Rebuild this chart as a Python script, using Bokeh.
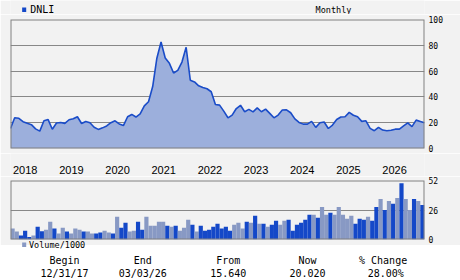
from bokeh.plotting import figure
from bokeh.layouts import column
from bokeh.models import Range1d, FixedTicker, ColumnDataSource
from bokeh.core.properties import value
from bokeh.embed import file_html
from bokeh.resources import INLINE

# ---------------- data ----------------
symbol = "DNLI"
period = "Monthly"
year_labels = ["2018", "2019", "2020", "2021", "2022", "2023", "2024", "2025", "2026"]
year_ticks = [0, 12, 24, 36, 48, 60, 72, 84, 96]          # months since Jan 2018
price_ticks = [0, 20, 40, 60, 80, 100]
vol_ticks = [0, 26, 52]

price = [15.6, 23.8, 23.4, 20.8, 19.6, 18.5, 15.2, 13.5, 21.5, 22.4,
         14.9, 19.8, 20.2, 19.5, 22.3, 23.0, 24.6, 19.4, 21.0, 20.0,
         16.5, 14.8, 16.0, 17.5, 20.0, 21.5, 19.0, 17.8, 24.6, 26.4,
         24.4, 26.8, 33.0, 36.2, 48.0, 70.0, 82.5, 70.2, 66.0, 58.5,
         60.6, 67.0, 78.5, 52.9, 51.6, 48.6, 47.3, 46.3, 44.0, 34.1,
         33.6, 29.0, 23.8, 25.9, 31.0, 33.5, 28.5, 30.3, 28.4, 31.5,
         28.5, 30.5, 27.2, 23.8, 25.9, 29.8, 30.0, 27.7, 23.0, 20.2,
         18.9, 18.9, 21.0, 16.4, 20.0, 20.5, 15.5, 18.2, 22.5, 24.4,
         24.6, 28.0, 25.8, 24.6, 21.0, 21.5, 15.6, 13.8, 16.4, 14.3,
         13.8, 14.1, 15.0, 15.0, 17.5, 19.9, 17.0, 22.0, 21.0, 20.0]

volume = [9.6, 7.0, 3.5, 7.8, 2.3, 3.5, 11.3, 7.3, 8.7, 15.7,
          9.6, 5.2, 10.4, 7.0, 5.2, 9.6, 8.7, 7.0, 7.0, 5.2,
          5.2, 6.1, 7.8, 6.1, 5.2, 20.0, 10.4, 14.8, 7.0, 7.8,
          15.7, 8.7, 20.0, 12.2, 12.2, 15.7, 15.7, 12.2, 11.3, 12.2,
          7.8, 10.4, 17.4, 13.1, 7.0, 12.2, 7.8, 8.7, 11.3, 13.9,
          9.6, 11.3, 7.8, 13.1, 14.8, 9.6, 15.7, 14.8, 20.9, 13.9,
          13.9, 11.3, 13.1, 16.5, 13.1, 16.5, 17.4, 7.8, 13.1, 14.8,
          17.4, 21.8, 21.8, 19.2, 28.7, 21.8, 23.5, 21.8, 28.7, 21.8,
          18.3, 20.9, 13.9, 18.3, 17.4, 20.0, 16.5, 28.7, 35.7, 26.1,
          34.0, 31.4, 36.6, 49.6, 35.7, 26.1, 35.7, 34.0, 30.5]

# 1 = dark bar, 0 = light bar
vol_dark = [0, 0, 1, 1, 1, 0, 1, 1, 0, 0,
            1, 0, 0, 1, 0, 0, 0, 1, 0, 0,
            1, 1, 0, 0, 1, 0, 1, 1, 0, 0,
            1, 1, 0, 0, 0, 0, 0, 1, 0, 1,
            0, 0, 0, 1, 0, 1, 1, 1, 1, 1,
            1, 1, 1, 0, 0, 0, 1, 0, 1, 0,
            1, 0, 1, 1, 0, 0, 1, 1, 1, 1,
            1, 1, 0, 1, 0, 0, 1, 0, 0, 0,
            0, 0, 1, 1, 1, 0, 1, 1, 0, 1,
            0, 1, 0, 1, 0, 0, 1, 0, 1]

volume_label = "Volume/1000"
summary_heads = ["Begin", "End", "From", "Now", "% Change"]
summary_vals = ["12/31/17", "03/03/26", "15.640", "20.020", "28.00%"]

# ---------------- style ----------------
BG = "#f2f2f2"
FRAME = "#808080"
GRID = "#888888"
LINE = "#1a4cc8"
FILL = "#9cafdc"
VDARK = "#1448c8"
VLIGHT = "#8899c4"
MONO = "DejaVu Sans Mono"
W = 460
LEFT, RIGHT = 10, 36

n_months = len(volume)
P_MAX = price_ticks[-1]
V_MAX = vol_ticks[-1]


def strip(h, x_end=W, left=0, transparent=False, **kw):
    f = figure(width=W, height=h, output_backend="svg", toolbar_location=None,
               x_range=Range1d(0, x_end), y_range=Range1d(0, h),
               x_axis_location=None, y_axis_location=None,
               min_border_left=left, min_border_right=0, min_border_top=0, min_border_bottom=0,
               background_fill_color=BG, border_fill_color=BG, **kw)
    if transparent:
        f.background_fill_alpha = 0
        f.border_fill_alpha = 0
    f.outline_line_color = None
    f.grid.visible = False
    return f


def style_right_axis(ax, ticks):
    ax.ticker = FixedTicker(ticks=ticks)
    ax.axis_line_color = None
    ax.major_tick_line_color = None
    ax.minor_tick_line_color = None
    ax.major_tick_out = 0
    ax.major_tick_in = 0
    ax.minor_tick_out = 0
    ax.minor_tick_in = 0
    ax.major_label_standoff = 4
    ax.major_label_text_font = MONO
    ax.major_label_text_font_size = "8px"
    ax.major_label_text_color = "#000000"


# ---------------- header ----------------
hdr = strip(14)
hdr.rect(x=[15.2], y=[4.8], width=4.5, height=4.5, fill_color=VDARK, line_color=None)
hdr.text(x=[22], y=[5], text=[symbol], text_font=value(MONO), text_font_size=value("10px"),
         text_color="#000000", text_baseline="middle", text_align="left")
hdr.text(x=[339], y=[5], text=[period], text_font=value(MONO), text_font_size=value("8.5px"),
         text_color="#000000", text_baseline="middle", text_align="left")

# ---------------- price panel ----------------
p = figure(width=W, height=5 + 129 + 5, output_backend="svg", toolbar_location=None,
           x_range=Range1d(0, n_months), y_range=Range1d(0, P_MAX),
           y_axis_location="right", x_axis_location=None,
           min_border_left=LEFT, min_border_right=RIGHT, min_border_top=5, min_border_bottom=5,
           background_fill_color=BG, border_fill_color=BG)
p.outline_line_color = None

src = ColumnDataSource(dict(x=list(range(len(price))), y=price))
p.varea(x="x", y1=0, y2="y", source=src, fill_color=FILL)
p.line(x="x", y="y", source=src, line_color=LINE, line_width=1.6)
# frame border (half of the 2px stroke lies inside the frame)
p.rect(x=[n_months / 2], y=[P_MAX / 2], width=n_months, height=P_MAX,
       fill_color=None, line_color=FRAME, line_width=2)

p.xgrid.visible = False
p.ygrid.ticker = FixedTicker(ticks=price_ticks[1:-1])
p.ygrid.grid_line_color = GRID
style_right_axis(p.yaxis[0], price_ticks)

# ---------------- year labels strip (same month scale as the frames) ----------------
yrs = strip(23, x_end=n_months * (W - LEFT) / (W - LEFT - RIGHT), left=LEFT)
yrs.text(x=year_ticks, y=6.3, text=year_labels, x_offset=2.5,
         text_font=value("Liberation Sans"), text_font_size=value("11px"),
         text_color="#000000", text_baseline="middle", text_align="left")

# ---------------- volume panel ----------------
v = figure(width=W, height=4 + 59 + 6, output_backend="svg", toolbar_location=None,
           x_range=Range1d(0, n_months), y_range=Range1d(0, V_MAX),
           y_axis_location="right", x_axis_location=None,
           min_border_left=LEFT, min_border_right=RIGHT, min_border_top=4, min_border_bottom=6,
           background_fill_color=BG, border_fill_color=BG)
v.outline_line_color = None

vsrc = ColumnDataSource(dict(
    x=[i + 0.5 for i in range(n_months)],
    top=volume,
    color=[VDARK if d else VLIGHT for d in vol_dark],
))
v.vbar(x="x", top="top", bottom=0, width=1.0, source=vsrc, fill_color="color", line_color=None)
v.rect(x=[n_months / 2], y=[V_MAX / 2], width=n_months, height=V_MAX,
       fill_color=None, line_color=FRAME, line_width=2)

v.xgrid.visible = False
v.ygrid.ticker = FixedTicker(ticks=[vol_ticks[1]])
v.ygrid.grid_line_color = GRID
style_right_axis(v.yaxis[0], vol_ticks)

# ---------------- footer (overlaps the volume panel's bottom border, transparent) ----------------
ftr = strip(41, transparent=True, margin=(-6, 0, 0, 0))
ftr.rect(x=[15.2], y=[35.8], width=4.5, height=4.5, fill_color=VLIGHT, line_color=None)
ftr.text(x=[20.5], y=[35.5], text=[volume_label], text_font=value(MONO), text_font_size=value("8.5px"),
         text_color="#000000", text_baseline="middle", text_align="left")
head_x = [60, 147, 242, 330, 414]
val_x = [60, 147, 242, 330, 417]
ftr.text(x=head_x, y=20.5, text=summary_heads, text_font=value(MONO), text_font_size=value("10px"),
         text_color="#000000", text_baseline="middle", text_align="center")
ftr.text(x=val_x, y=7.5, text=summary_vals, text_font=value(MONO), text_font_size=value("10px"),
         text_color="#000000", text_baseline="middle", text_align="center")

layout = column(hdr, p, yrs, v, ftr, spacing=0)
open("out.html", "w").write(file_html(layout, INLINE))
